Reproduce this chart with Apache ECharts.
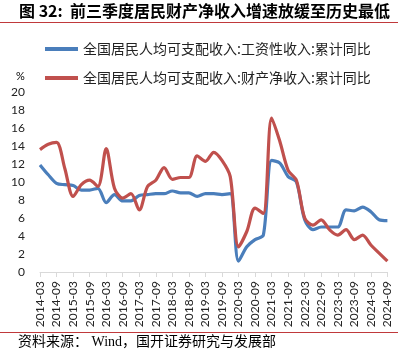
<!DOCTYPE html>
<html><head><meta charset="utf-8">
<script src="https://cdn.jsdelivr.net/npm/echarts@6/dist/echarts.min.js"></script>
<style>html,body{margin:0;padding:0;background:#fff}#c{width:412px;height:358px}</style>
</head><body><div id="c"></div>
<script>
const categories = ['2014-03','2014-06','2014-09','2014-12','2015-03','2015-06','2015-09','2015-12','2016-03','2016-06','2016-09','2016-12','2017-03','2017-06','2017-09','2017-12','2018-03','2018-06','2018-09','2018-12','2019-03','2019-06','2019-09','2019-12','2020-03','2020-06','2020-09','2020-12','2021-03','2021-06','2021-09','2021-12','2022-03','2022-06','2022-09','2022-12','2023-03','2023-06','2023-09','2023-12','2024-03','2024-06','2024-09'];
const wageIncome = [11.9,10.8,9.85,9.7,9.6,9.1,9.1,9.3,7.7,8.6,7.9,7.9,8.5,8.6,8.7,8.7,9.0,8.8,8.8,8.4,8.7,8.7,8.6,8.7,1.2,2.8,3.6,4.1,12.4,12.1,10.6,10.0,5.8,4.7,5.0,5.0,5.0,6.9,6.8,7.2,6.7,5.8,5.7];
const propertyIncome = [13.6,14.2,14.4,11.5,8.4,9.7,10.2,9.5,13.7,9.3,8.2,8.7,6.9,9.5,10.2,11.6,10.3,10.5,10.5,12.9,12.3,13.3,12.4,10.6,2.8,4.5,7.1,6.5,17.1,14.5,11.3,10.2,6.0,5.2,5.8,4.7,4.1,4.7,3.6,4.1,3.0,2.1,1.2];
const seriesNames = ['全国居民人均可支配收入:工资性收入:累计同比','全国居民人均可支配收入:财产净收入:累计同比'];
const titleText = '图 32:  前三季度居民财产净收入增速放缓至历史最低';
const sourceText = '资料来源： Wind，国开证券研究与发展部';

const chart = echarts.init(document.getElementById('c'));
const cjk = '"Noto Sans CJK SC", "Noto Sans", sans-serif';
chart.setOption({
  animation: false,
  title: {text: titleText, left: 19, top: 3, padding: 0, textStyle: {fontFamily: cjk, fontSize: 16, fontWeight: 'bold', color: '#000'}},
  graphic: [
    {type: 'line', shape: {x1: 0, y1: 22.5, x2: 398, y2: 22.5}, style: {stroke: '#c0393b', lineWidth: 1}},
    {type: 'line', shape: {x1: 0, y1: 332.5, x2: 398, y2: 332.5}, style: {stroke: '#c0393b', lineWidth: 1}},
    {type: 'text', left: 18, top: 335, style: {text: sourceText, font: '14px "Liberation Serif", "Noto Sans CJK SC", serif', fill: '#000'}},
    {type: 'text', left: 16, top: 71, style: {text: '%', font: '11px Lato, "Noto Sans", sans-serif', fill: '#000'}}
  ],
  legend: {
    orient: 'vertical', left: 45, top: 42, padding: 0, itemGap: 15, itemWidth: 33, itemHeight: 4,
    textStyle: {fontFamily: cjk, fontSize: 14, color: '#222'},
    icon: 'rect',
    data: seriesNames
  },
  grid: {left: 40, right: 24.6, top: 92, bottom: 86},
  xAxis: {
    type: 'category', data: categories, boundaryGap: false,
    axisLine: {lineStyle: {color: '#d9d9d9'}},
    axisTick: {interval: 1, length: 5, lineStyle: {color: '#d9d9d9'}},
    axisLabel: {interval: 1, rotate: 90, fontSize: 12, fontFamily: 'Lato, "Noto Sans", sans-serif', color: '#222', margin: 9}
  },
  yAxis: {
    type: 'value', min: 0, max: 20, interval: 2,
    splitLine: {show: false}, axisLine: {show: false}, axisTick: {show: false},
    axisLabel: {fontSize: 12, fontFamily: 'Lato, "Noto Sans", sans-serif', color: '#222', margin: 15}
  },
  series: [
    {name: seriesNames[0], type: 'line', data: wageIncome, smooth: 0.3, symbol: 'none', lineStyle: {width: 3.2, color: '#4a7ebb'}, itemStyle: {color: '#4a7ebb'}},
    {name: seriesNames[1], type: 'line', data: propertyIncome, smooth: 0.3, symbol: 'none', lineStyle: {width: 3.2, color: '#c0504d'}, itemStyle: {color: '#c0504d'}}
  ]
});
</script></body></html>
